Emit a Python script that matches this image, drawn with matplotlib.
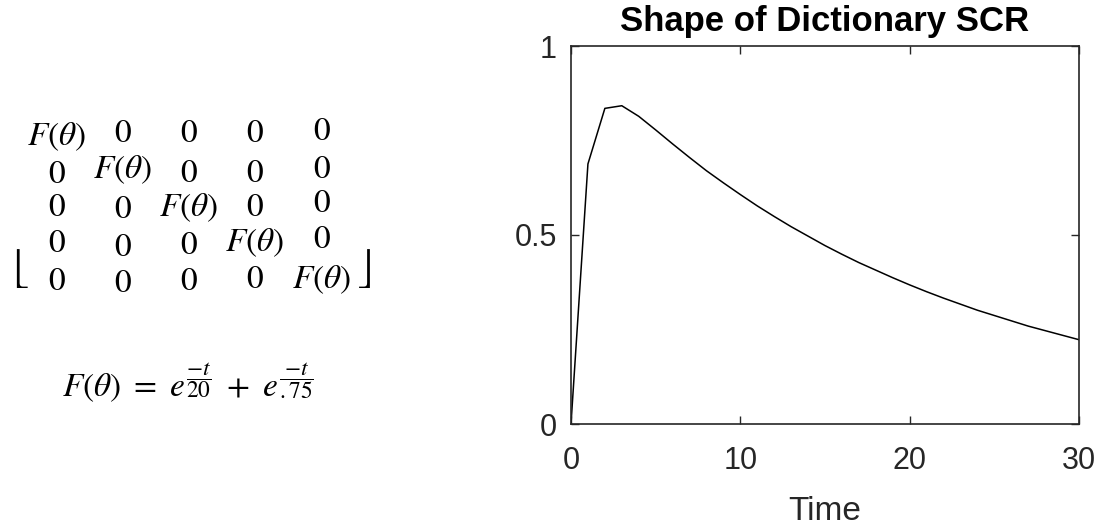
import matplotlib
matplotlib.use("Agg")
import matplotlib.pyplot as plt

# dictionary SCR shape, one sample per time step
time = list(range(31))
scr = [0.0, 0.688, 0.835, 0.842, 0.814, 0.778, 0.741, 0.705, 0.670, 0.638,
       0.607, 0.577, 0.549, 0.522, 0.497, 0.472, 0.449, 0.427, 0.407, 0.387,
       0.368, 0.350, 0.333, 0.317, 0.301, 0.287, 0.273, 0.259, 0.247, 0.235,
       0.223]

xticks = [0, 10, 20, 30]
yticks = [0, 0.5, 1]
ytick_labels = ["0", "0.5", "1"]

plt.rcParams["font.family"] = ["Liberation Sans", "DejaVu Sans"]
plt.rcParams["mathtext.fontset"] = "stix"

W, H = 1103, 525
fig = plt.figure(figsize=(W / 100, H / 100), dpi=100)

# --- left panel: the diagonal matrix, placed cell by cell (pixel coords) ---
col_x = [57, 123, 189, 255, 322]
row_y = [
    [137, 133, 133, 133, 132],
    [175, 170, 173, 173, 169],
    [207, 210, 208, 207, 203],
    [243, 247, 245, 243, 240],
    [282, 283, 282, 280, 280],
]
for r in range(5):
    for c in range(5):
        s = r"$F(\theta)$" if r == c else r"$0$"
        fig.text(col_x[c] / W, 1 - row_y[r][c] / H, s, fontsize=24,
                 ha="center", va="center", color="black")
fig.text(18 / W, 1 - 268 / H, r"$\lfloor$", fontsize=30, ha="center", va="center")
fig.text(364 / W, 1 - 268 / H, r"$\rfloor$", fontsize=30, ha="center", va="center")

fig.text(188 / W, 1 - 382 / H,
         r"$F(\theta)\ =\ e^{\dfrac{-t}{20}}\ +\ e^{\dfrac{-t}{.75}}$",
         fontsize=24, ha="center", va="center", color="black")

# --- right panel: the curve ---
ax = fig.add_axes([571 / W, 1 - 424 / H, (1079 - 571) / W, (424 - 46) / H])
ax.plot(time, scr, color="black", linewidth=1.1)
ax.set_xlim(0, 30)
ax.set_ylim(0, 1)
ax.set_xticks(xticks)
ax.set_yticks(yticks)
ax.set_yticklabels(ytick_labels)
ax.tick_params(direction="in", top=True, right=True, labelsize=22,
               colors="#262626", length=6, width=1)
ax.tick_params(axis="x", pad=16)
ax.tick_params(axis="y", pad=10)
for sp in ax.spines.values():
    sp.set_color("#262626")
    sp.set_linewidth(1.2)
ax.set_xlabel("Time", fontsize=24, color="#262626", labelpad=14)
ax.set_title("Shape of Dictionary SCR", fontsize=25, fontweight="bold", pad=11)

fig.savefig("out.png", dpi=100)
